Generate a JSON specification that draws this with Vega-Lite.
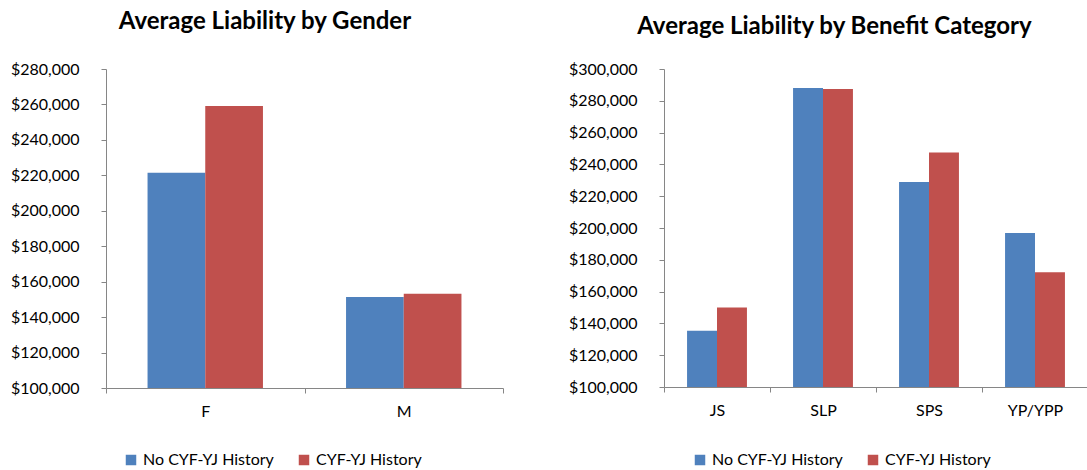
{
  "$schema": "https://vega.github.io/schema/vega-lite/v6.json",
  "background": "white",
  "padding": {"left": 10, "top": 10, "right": 2, "bottom": 0},
  "config": {
    "font": "Lato",
    "view": {"stroke": null},
    "concat": {"spacing": 64},
    "axis": {
      "domainColor": "#868686",
      "tickColor": "#868686",
      "tickSize": 5,
      "labelFontSize": 16,
      "labelColor": "#000000",
      "grid": false,
      "title": null
    },
    "title": {"fontSize": 24, "fontWeight": "bold", "color": "#000000", "anchor": "middle", "frame": "bounds"},
    "legend": {
      "orient": "none",
      "direction": "horizontal",
      "labelFontSize": 16,
      "labelColor": "#000000",
      "symbolType": "square",
      "symbolSize": 110,
      "symbolStrokeWidth": 0,
      "columnPadding": 22,
      "labelOffset": 4,
      "title": null
    }
  },
  "resolve": {
    "legend": {"color": "independent"},
    "scale": {"color": "independent", "x": "independent", "xOffset": "independent", "y": "independent"}
  },
  "hconcat": [
    {
      "title": {"text": "Average Liability by Gender", "offset": 27, "dx": 8},
      "width": 397,
      "height": 319,
      "data": {"values": [
        {"category": "F", "series": "No CYF-YJ History", "value": 221500},
        {"category": "F", "series": "CYF-YJ History", "value": 259100},
        {"category": "M", "series": "No CYF-YJ History", "value": 151400},
        {"category": "M", "series": "CYF-YJ History", "value": 153200}
      ]},
      "mark": {"type": "bar"},
      "encoding": {
        "x": {"field": "category", "type": "nominal", "scale": {"paddingInner": 0, "paddingOuter": 0},
              "axis": {"labelAngle": 0, "tickBand": "extent", "labelPadding": 10}},
        "xOffset": {"field": "series", "type": "nominal", "sort": ["No CYF-YJ History", "CYF-YJ History"], "scale": {"paddingInner": 0, "paddingOuter": 0.72}},
        "y": {"field": "value", "type": "quantitative", "scale": {"domain": [100000, 280000], "nice": false, "zero": false},
              "axis": {"format": "$,.0f", "values": [100000, 120000, 140000, 160000, 180000, 200000, 220000, 240000, 260000, 280000], "labelPadding": 22}},
        "y2": {"datum": 100000},
        "color": {"field": "series", "type": "nominal", "sort": ["No CYF-YJ History", "CYF-YJ History"],
                  "scale": {"domain": ["No CYF-YJ History", "CYF-YJ History"], "range": ["#4F81BD", "#C0504D"]},
                  "legend": {"legendX": 17, "legendY": 383}}
      }
    },
    {
      "title": {"text": "Average Liability by Benefit Category", "offset": 22, "dx": 6},
      "width": 424,
      "height": 318,
      "data": {"values": [
        {"category": "JS", "series": "No CYF-YJ History", "value": 135300},
        {"category": "JS", "series": "CYF-YJ History", "value": 150000},
        {"category": "SLP", "series": "No CYF-YJ History", "value": 288000},
        {"category": "SLP", "series": "CYF-YJ History", "value": 287400},
        {"category": "SPS", "series": "No CYF-YJ History", "value": 228900},
        {"category": "SPS", "series": "CYF-YJ History", "value": 247500},
        {"category": "YP/YPP", "series": "No CYF-YJ History", "value": 196800},
        {"category": "YP/YPP", "series": "CYF-YJ History", "value": 172100}
      ]},
      "mark": {"type": "bar"},
      "encoding": {
        "x": {"field": "category", "type": "nominal", "scale": {"paddingInner": 0, "paddingOuter": 0},
              "axis": {"labelAngle": 0, "tickBand": "extent", "labelPadding": 10}},
        "xOffset": {"field": "series", "type": "nominal", "sort": ["No CYF-YJ History", "CYF-YJ History"], "scale": {"paddingInner": 0, "paddingOuter": 0.77}},
        "y": {"field": "value", "type": "quantitative", "scale": {"domain": [100000, 300000], "nice": false, "zero": false},
              "axis": {"format": "$,.0f", "values": [100000, 120000, 140000, 160000, 180000, 200000, 220000, 240000, 260000, 280000, 300000], "labelPadding": 22}},
        "y2": {"datum": 100000},
        "color": {"field": "series", "type": "nominal", "sort": ["No CYF-YJ History", "CYF-YJ History"],
                  "scale": {"domain": ["No CYF-YJ History", "CYF-YJ History"], "range": ["#4F81BD", "#C0504D"]},
                  "legend": {"legendX": 28, "legendY": 383}}
      }
    }
  ]
}
